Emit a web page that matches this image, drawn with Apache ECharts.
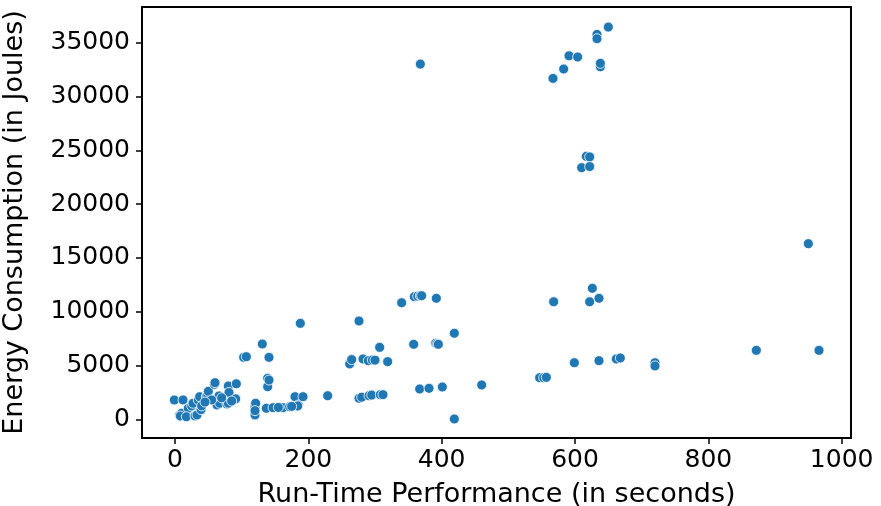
<!DOCTYPE html>
<html>
<head>
<meta charset="utf-8">
<script src="https://cdn.jsdelivr.net/npm/echarts@6/dist/echarts.min.js"></script>
<style>html,body{margin:0;padding:0;background:#fff;}#c{width:881px;height:506px;}</style>
</head>
<body>
<div id="c"></div>
<script>
// Run-time (s) and energy (J)
const runTime = [
  -1, 12, 7, 10, 8, 20, 17, 25, 27, 30, 33, 35, 37, 39, 40, 47, 49, 50, 59, 60, 63, 66, 67, 78, 80, 81, 80, 91, 92, 55, 45, 70, 85,
  103, 107, 131, 141, 120, 120, 120, 121, 120, 139, 139, 141, 137, 147, 162, 172, 180, 185, 184, 192, 188, 175, 155,
  229, 262, 265, 282, 290, 296, 319, 276, 276, 280, 291, 295, 308, 312, 307, 300,
  340, 359, 364, 368, 370, 392, 368, 358, 391, 393, 395, 419, 367, 381, 401, 419, 460,
  547, 553, 557, 568, 599, 636, 662, 668, 720, 720, 622, 626, 636,
  617, 622, 610, 622,
  567, 583, 591, 604, 633, 633, 650, 638, 638,
  950, 872, 966
];
const energy = [
  1790, 1800, 400, 560, 300, 1020, 240, 1240, 1490, 310, 400, 1790, 2100, 900, 1250, 2100, 2260, 2600, 3250, 3400, 1330, 2170, 1490, 1420, 3100, 2500, 1500, 1900, 3300, 1800, 1600, 2000, 1700,
  5760, 5820, 7000, 5760, 1020, 400, 1170, 1490, 800, 3810, 3030, 3650, 1020, 1080, 1080, 1170, 2100, 1330, 1240, 2100, 8920, 1200, 1100,
  2190, 5150, 5550, 5610, 5450, 5510, 5360, 9140, 1950, 2050, 2190, 2250, 2290, 2290, 6690, 5500,
  10840, 11400, 11450, 11490, 11490, 11250, 33030, 6970, 7070, 7000, 6970, 8000, 2820, 2880, 3000, 30, 3190,
  3870, 3870, 3900, 10930, 5260, 5450, 5610, 5700, 5260, 4960, 10930, 12180, 11250,
  24450, 24400, 23400, 23500,
  31700, 32570, 33800, 33690, 35790, 35390, 36470, 32780, 33100,
  16330, 6410, 6410
];
const xTicks = [0, 200, 400, 600, 800, 1000];
const yTicks = [0, 5000, 10000, 15000, 20000, 25000, 30000, 35000];
const xTitle = 'Run-Time Performance (in seconds)';
const yTitle = 'Energy Consumption (in Joules)';

const points = runTime.map((x, i) => [x, energy[i]]);
const font = 'DejaVu Sans';
const plain = v => String(v);
const chart = echarts.init(document.getElementById('c'), null, {renderer: 'canvas'});
chart.setOption({
  animation: false,
  backgroundColor: '#fff',
  grid: {left: 142, right: 30, top: 7, bottom: 68, show: true, borderColor: '#000', borderWidth: 2, backgroundColor: 'transparent', containLabel: false, outerBoundsMode: 'none'},
  xAxis: {
    type: 'value', min: -49.5, max: 1014,
    name: xTitle, nameLocation: 'middle', nameGap: 43,
    nameTextStyle: {fontFamily: font, fontSize: 27, color: '#000'},
    axisLine: {show: false, onZero: false},
    axisTick: {show: true, length: 6, customValues: xTicks, lineStyle: {color: '#000', width: 1.5}},
    axisLabel: {customValues: xTicks, formatter: plain, fontFamily: font, fontSize: 25, color: '#000', margin: 10},
    splitLine: {show: false}
  },
  yAxis: {
    type: 'value', min: -1740, max: 38340,
    name: yTitle, nameLocation: 'middle', nameGap: 114, nameRotate: 90,
    nameTextStyle: {fontFamily: font, fontSize: 27, color: '#000'},
    axisLine: {show: false, onZero: false},
    axisTick: {show: true, length: 6, customValues: yTicks, lineStyle: {color: '#000', width: 1.5}},
    axisLabel: {customValues: yTicks, formatter: plain, fontFamily: font, fontSize: 25, color: '#000', margin: 12},
    splitLine: {show: false}
  },
  series: [{
    type: 'scatter',
    data: points,
    symbol: 'circle',
    symbolSize: 10,
    itemStyle: {color: '#1f77b4', borderColor: '#ffffff', borderWidth: 0.8, opacity: 1}
  }]
});
</script>
</body>
</html>
